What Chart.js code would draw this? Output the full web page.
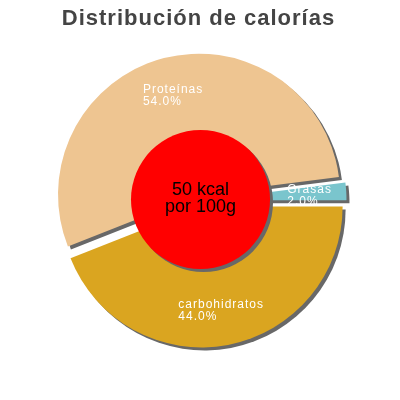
<!DOCTYPE html>
<html><head><meta charset="utf-8">
<script src="https://cdn.jsdelivr.net/npm/chart.js@4.4.1/dist/chart.umd.min.js"></script>
<style>html,body{margin:0;padding:0;background:#fff;}#wrap{width:400px;height:400px;position:relative;}</style>
</head><body><div id="wrap"><canvas id="c"></canvas></div>
<script>
const categories = ['Proteínas', 'Grasas', 'carbohidratos'];
const percentages = [54.0, 2.0, 44.0];
const sliceColors = ['#EEC591', '#7AC5CD', '#DAA520'];
const titleText = 'Distribución de calorías';
const centerLines = ['50 kcal', 'por 100g'];
const explode = [6, 5, 6];

const FONT = '"Liberation Sans", Arial, sans-serif';
const SHADOW = '#686868';

function drawSpaced(ctx, text, x, y, spacing) {
  ctx.letterSpacing = spacing + 'px';
  ctx.fillText(text, x, y);
  ctx.letterSpacing = '0px';
}

const piePlugin = {
  id: 'piePlugin',
  beforeDatasetDraw(chart, args) {
    const ctx = chart.ctx;
    args.meta.data.forEach((arc, i) => {
      const mid = (arc.startAngle + arc.endAngle) / 2;
      ctx.save();
      ctx.translate(Math.cos(mid) * explode[i], Math.sin(mid) * explode[i]);
      ctx.shadowColor = SHADOW;
      ctx.shadowOffsetX = 3; ctx.shadowOffsetY = 3; ctx.shadowBlur = 0;
      arc.draw(ctx);
      ctx.restore();
    });
    return false;
  },
  afterDatasetsDraw(chart) {
    const ctx = chart.ctx;
    const meta = chart.getDatasetMeta(0);
    const a0 = meta.data[0];
    const cx = a0.x, cy = a0.y, R = a0.outerRadius;
    // center disc
    ctx.save();
    ctx.shadowColor = SHADOW; ctx.shadowOffsetX = 3; ctx.shadowOffsetY = 3; ctx.shadowBlur = 0;
    ctx.fillStyle = '#FF0000';
    ctx.beginPath(); ctx.arc(cx, cy - 1, R * 0.493, 0, Math.PI * 2); ctx.fill();
    ctx.restore();
    // center text
    ctx.save();
    ctx.fillStyle = '#000';
    ctx.font = '18px ' + FONT;
    ctx.textAlign = 'center';
    ctx.textBaseline = 'alphabetic';
    ctx.fillText(centerLines[0], cx, cy - 5.5);
    ctx.fillText(centerLines[1], cx, cy + 11.5);
    ctx.restore();
    // slice labels
    ctx.save();
    ctx.fillStyle = '#fff';
    ctx.font = '12px ' + FONT;
    ctx.textAlign = 'left';
    ctx.textBaseline = 'alphabetic';
    meta.data.forEach((arc, i) => {
      const mid = (arc.startAngle + arc.endAngle) / 2;
      const d = R * 0.74 + explode[i];
      const px = cx + Math.cos(mid) * d, py = cy + Math.sin(mid) * d;
      const l1 = categories[i], l2 = percentages[i].toFixed(1) + '%';
      ctx.letterSpacing = '1px';
      const w = Math.max(ctx.measureText(l1).width, ctx.measureText(l2).width);
      ctx.fillText(l1, px - w / 2, py - 1);
      ctx.fillText(l2, px - w / 2, py + 11);
      ctx.letterSpacing = '0px';
    });
    ctx.restore();
    // title
    ctx.save();
    ctx.fillStyle = '#444444';
    ctx.font = 'bold 22px ' + FONT;
    ctx.textAlign = 'left';
    ctx.letterSpacing = '1px';
    const tw = ctx.measureText(titleText).width - 1;
    ctx.fillText(titleText, 198 - tw / 2, 25);
    ctx.letterSpacing = '0px';
    ctx.restore();
  }
};

new Chart(document.getElementById('c'), {
  type: 'pie',
  data: {
    labels: categories,
    datasets: [{
      data: percentages,
      backgroundColor: sliceColors,
      borderWidth: 0
    }]
  },
  options: {
    responsive: true,
    maintainAspectRatio: false,
    animation: false,
    events: [],
    rotation: 248.4,
    radius: 141,
    layout: { padding: { top: 51, bottom: 50, left: 50, right: 49 } },
    plugins: { legend: { display: false }, tooltip: { enabled: false }, title: { display: false } }
  },
  plugins: [piePlugin]
});
</script>
</body></html>
